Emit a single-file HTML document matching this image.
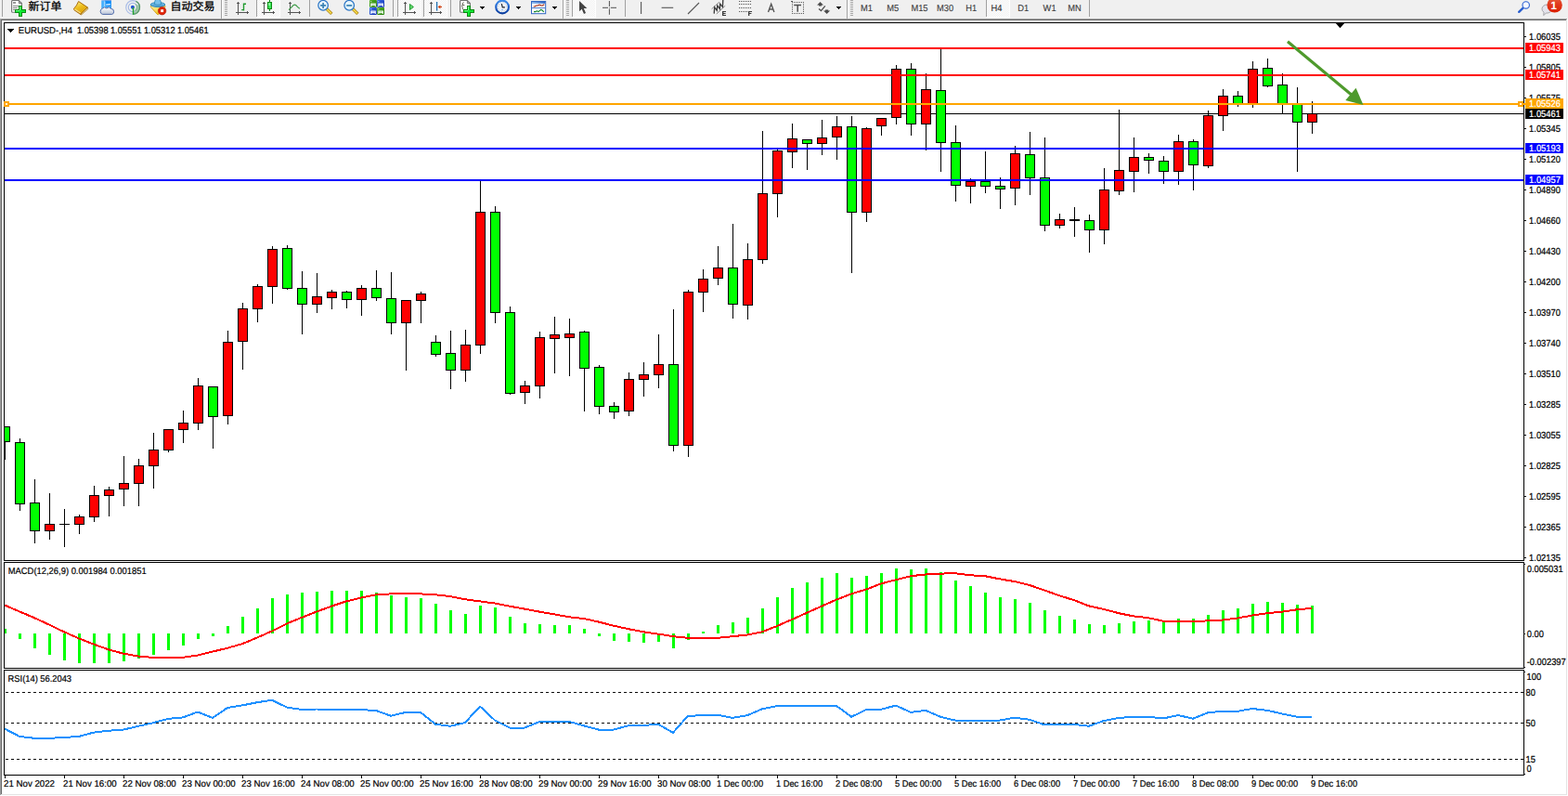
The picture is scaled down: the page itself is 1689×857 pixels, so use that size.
<!DOCTYPE html>
<html><head><meta charset="utf-8"><title>EURUSD-,H4</title>
<style>html,body{margin:0;padding:0;background:#f0f0f0}body{width:1689px;height:857px;overflow:hidden;position:relative;font-family:"Liberation Sans",sans-serif}text{white-space:pre;text-rendering:geometricPrecision}</style></head>
<body>
<svg width="1689" height="857" viewBox="0 0 1689 857" font-family="'Liberation Sans', sans-serif" style="position:absolute;left:0;top:0;display:block">
<defs><clipPath id="cm"><rect x="5" y="25" width="1636" height="578"/></clipPath><clipPath id="cq"><rect x="5" y="606" width="1636" height="113"/></clipPath><clipPath id="cr"><rect x="5" y="722" width="1636" height="112"/></clipPath></defs>
<rect x="0" y="0" width="1689" height="857" fill="#f0f0f0"/>
<g shape-rendering="crispEdges">
<rect x="0" y="20" width="1689" height="837" fill="#ffffff"/>
<rect x="0" y="20" width="1688" height="1" fill="#a0a0a0"/>
<rect x="0" y="20" width="1" height="836" fill="#a0a0a0"/>
<rect x="1" y="21" width="1686" height="1" fill="#696969"/>
<rect x="1" y="21" width="1" height="834" fill="#696969"/>
<rect x="1" y="855" width="1687" height="1" fill="#e3e3e3"/>
<rect x="1687" y="21" width="1" height="835" fill="#e3e3e3"/>
<rect x="4" y="24" width="1638" height="1" fill="#000"/>
<rect x="4" y="603" width="1638" height="1" fill="#000"/>
<rect x="4" y="24" width="1" height="580" fill="#000"/>
<rect x="1641" y="24" width="1" height="580" fill="#000"/>
<rect x="4" y="605" width="1638" height="1" fill="#000"/>
<rect x="4" y="719" width="1638" height="1" fill="#000"/>
<rect x="4" y="605" width="1" height="115" fill="#000"/>
<rect x="1641" y="605" width="1" height="115" fill="#000"/>
<rect x="4" y="721" width="1638" height="1" fill="#000"/>
<rect x="4" y="834" width="1638" height="1" fill="#000"/>
<rect x="4" y="721" width="1" height="114" fill="#000"/>
<rect x="1641" y="721" width="1" height="114" fill="#000"/>
</g>
<g clip-path="url(#cm)" shape-rendering="crispEdges">
<rect x="5" y="122" width="1636" height="1" fill="#000"/>
<rect x="5" y="459" width="1" height="36" fill="#000"/>
<rect x="0" y="459" width="11" height="17" fill="#000"/>
<rect x="1" y="460" width="9" height="15" fill="#00ff00"/>
<rect x="21" y="472" width="1" height="78" fill="#000"/>
<rect x="16" y="476" width="11" height="67" fill="#000"/>
<rect x="17" y="477" width="9" height="65" fill="#00ff00"/>
<rect x="37" y="516" width="1" height="69" fill="#000"/>
<rect x="32" y="541" width="11" height="31" fill="#000"/>
<rect x="33" y="542" width="9" height="29" fill="#00ff00"/>
<rect x="53" y="531" width="1" height="50" fill="#000"/>
<rect x="48" y="564" width="11" height="8" fill="#000"/>
<rect x="49" y="565" width="9" height="6" fill="#ff0000"/>
<rect x="69" y="548" width="1" height="41" fill="#000"/>
<rect x="64" y="564" width="11" height="1" fill="#000"/>
<rect x="85" y="554" width="1" height="21" fill="#000"/>
<rect x="80" y="556" width="11" height="9" fill="#000"/>
<rect x="81" y="557" width="9" height="7" fill="#ff0000"/>
<rect x="101" y="523" width="1" height="39" fill="#000"/>
<rect x="96" y="533" width="11" height="24" fill="#000"/>
<rect x="97" y="534" width="9" height="22" fill="#ff0000"/>
<rect x="117" y="524" width="1" height="32" fill="#000"/>
<rect x="112" y="527" width="11" height="7" fill="#000"/>
<rect x="113" y="528" width="9" height="5" fill="#ff0000"/>
<rect x="133" y="491" width="1" height="54" fill="#000"/>
<rect x="128" y="520" width="11" height="7" fill="#000"/>
<rect x="129" y="521" width="9" height="5" fill="#ff0000"/>
<rect x="149" y="494" width="1" height="51" fill="#000"/>
<rect x="144" y="501" width="11" height="20" fill="#000"/>
<rect x="145" y="502" width="9" height="18" fill="#ff0000"/>
<rect x="165" y="466" width="1" height="60" fill="#000"/>
<rect x="160" y="484" width="11" height="18" fill="#000"/>
<rect x="161" y="485" width="9" height="16" fill="#ff0000"/>
<rect x="181" y="462" width="1" height="25" fill="#000"/>
<rect x="176" y="462" width="11" height="23" fill="#000"/>
<rect x="177" y="463" width="9" height="21" fill="#ff0000"/>
<rect x="197" y="442" width="1" height="35" fill="#000"/>
<rect x="192" y="455" width="11" height="8" fill="#000"/>
<rect x="193" y="456" width="9" height="6" fill="#ff0000"/>
<rect x="213" y="407" width="1" height="56" fill="#000"/>
<rect x="208" y="415" width="11" height="41" fill="#000"/>
<rect x="209" y="416" width="9" height="39" fill="#ff0000"/>
<rect x="229" y="416" width="1" height="67" fill="#000"/>
<rect x="224" y="416" width="11" height="33" fill="#000"/>
<rect x="225" y="417" width="9" height="31" fill="#00ff00"/>
<rect x="245" y="356" width="1" height="101" fill="#000"/>
<rect x="240" y="368" width="11" height="80" fill="#000"/>
<rect x="241" y="369" width="9" height="78" fill="#ff0000"/>
<rect x="261" y="326" width="1" height="72" fill="#000"/>
<rect x="256" y="332" width="11" height="36" fill="#000"/>
<rect x="257" y="333" width="9" height="34" fill="#ff0000"/>
<rect x="277" y="306" width="1" height="41" fill="#000"/>
<rect x="272" y="308" width="11" height="25" fill="#000"/>
<rect x="273" y="309" width="9" height="23" fill="#ff0000"/>
<rect x="293" y="265" width="1" height="62" fill="#000"/>
<rect x="288" y="268" width="11" height="41" fill="#000"/>
<rect x="289" y="269" width="9" height="39" fill="#ff0000"/>
<rect x="309" y="264" width="1" height="48" fill="#000"/>
<rect x="304" y="267" width="11" height="44" fill="#000"/>
<rect x="305" y="268" width="9" height="42" fill="#00ff00"/>
<rect x="325" y="292" width="1" height="68" fill="#000"/>
<rect x="320" y="310" width="11" height="18" fill="#000"/>
<rect x="321" y="311" width="9" height="16" fill="#00ff00"/>
<rect x="341" y="294" width="1" height="43" fill="#000"/>
<rect x="336" y="319" width="11" height="9" fill="#000"/>
<rect x="337" y="320" width="9" height="7" fill="#ff0000"/>
<rect x="357" y="312" width="1" height="21" fill="#000"/>
<rect x="352" y="314" width="11" height="7" fill="#000"/>
<rect x="353" y="315" width="9" height="5" fill="#ff0000"/>
<rect x="373" y="313" width="1" height="19" fill="#000"/>
<rect x="368" y="314" width="11" height="9" fill="#000"/>
<rect x="369" y="315" width="9" height="7" fill="#00ff00"/>
<rect x="389" y="307" width="1" height="33" fill="#000"/>
<rect x="384" y="310" width="11" height="13" fill="#000"/>
<rect x="385" y="311" width="9" height="11" fill="#ff0000"/>
<rect x="405" y="291" width="1" height="33" fill="#000"/>
<rect x="400" y="310" width="11" height="11" fill="#000"/>
<rect x="401" y="311" width="9" height="9" fill="#00ff00"/>
<rect x="421" y="293" width="1" height="67" fill="#000"/>
<rect x="416" y="321" width="11" height="27" fill="#000"/>
<rect x="417" y="322" width="9" height="25" fill="#00ff00"/>
<rect x="437" y="323" width="1" height="76" fill="#000"/>
<rect x="432" y="323" width="11" height="25" fill="#000"/>
<rect x="433" y="324" width="9" height="23" fill="#ff0000"/>
<rect x="453" y="314" width="1" height="34" fill="#000"/>
<rect x="448" y="316" width="11" height="8" fill="#000"/>
<rect x="449" y="317" width="9" height="6" fill="#ff0000"/>
<rect x="469" y="361" width="1" height="23" fill="#000"/>
<rect x="464" y="368" width="11" height="14" fill="#000"/>
<rect x="465" y="369" width="9" height="12" fill="#00ff00"/>
<rect x="485" y="356" width="1" height="63" fill="#000"/>
<rect x="480" y="380" width="11" height="19" fill="#000"/>
<rect x="481" y="381" width="9" height="17" fill="#00ff00"/>
<rect x="501" y="355" width="1" height="56" fill="#000"/>
<rect x="496" y="371" width="11" height="28" fill="#000"/>
<rect x="497" y="372" width="9" height="26" fill="#ff0000"/>
<rect x="517" y="195" width="1" height="186" fill="#000"/>
<rect x="512" y="228" width="11" height="144" fill="#000"/>
<rect x="513" y="229" width="9" height="142" fill="#ff0000"/>
<rect x="533" y="222" width="1" height="126" fill="#000"/>
<rect x="528" y="228" width="11" height="109" fill="#000"/>
<rect x="529" y="229" width="9" height="107" fill="#00ff00"/>
<rect x="549" y="330" width="1" height="95" fill="#000"/>
<rect x="544" y="336" width="11" height="88" fill="#000"/>
<rect x="545" y="337" width="9" height="86" fill="#00ff00"/>
<rect x="565" y="410" width="1" height="25" fill="#000"/>
<rect x="560" y="415" width="11" height="8" fill="#000"/>
<rect x="561" y="416" width="9" height="6" fill="#ff0000"/>
<rect x="581" y="357" width="1" height="72" fill="#000"/>
<rect x="576" y="363" width="11" height="53" fill="#000"/>
<rect x="577" y="364" width="9" height="51" fill="#ff0000"/>
<rect x="597" y="341" width="1" height="61" fill="#000"/>
<rect x="592" y="360" width="11" height="5" fill="#000"/>
<rect x="593" y="361" width="9" height="3" fill="#ff0000"/>
<rect x="613" y="343" width="1" height="62" fill="#000"/>
<rect x="608" y="359" width="11" height="5" fill="#000"/>
<rect x="609" y="360" width="9" height="3" fill="#ff0000"/>
<rect x="629" y="356" width="1" height="87" fill="#000"/>
<rect x="624" y="357" width="11" height="40" fill="#000"/>
<rect x="625" y="358" width="9" height="38" fill="#00ff00"/>
<rect x="645" y="393" width="1" height="53" fill="#000"/>
<rect x="640" y="395" width="11" height="43" fill="#000"/>
<rect x="641" y="396" width="9" height="41" fill="#00ff00"/>
<rect x="661" y="433" width="1" height="18" fill="#000"/>
<rect x="656" y="437" width="11" height="7" fill="#000"/>
<rect x="657" y="438" width="9" height="5" fill="#00ff00"/>
<rect x="677" y="401" width="1" height="47" fill="#000"/>
<rect x="672" y="408" width="11" height="35" fill="#000"/>
<rect x="673" y="409" width="9" height="33" fill="#ff0000"/>
<rect x="693" y="390" width="1" height="37" fill="#000"/>
<rect x="688" y="403" width="11" height="6" fill="#000"/>
<rect x="689" y="404" width="9" height="4" fill="#ff0000"/>
<rect x="709" y="360" width="1" height="58" fill="#000"/>
<rect x="704" y="392" width="11" height="12" fill="#000"/>
<rect x="705" y="393" width="9" height="10" fill="#ff0000"/>
<rect x="725" y="333" width="1" height="153" fill="#000"/>
<rect x="720" y="392" width="11" height="88" fill="#000"/>
<rect x="721" y="393" width="9" height="86" fill="#00ff00"/>
<rect x="741" y="312" width="1" height="180" fill="#000"/>
<rect x="736" y="314" width="11" height="166" fill="#000"/>
<rect x="737" y="315" width="9" height="164" fill="#ff0000"/>
<rect x="757" y="290" width="1" height="46" fill="#000"/>
<rect x="752" y="300" width="11" height="15" fill="#000"/>
<rect x="753" y="301" width="9" height="13" fill="#ff0000"/>
<rect x="773" y="265" width="1" height="42" fill="#000"/>
<rect x="768" y="288" width="11" height="12" fill="#000"/>
<rect x="769" y="289" width="9" height="10" fill="#ff0000"/>
<rect x="789" y="241" width="1" height="102" fill="#000"/>
<rect x="784" y="288" width="11" height="40" fill="#000"/>
<rect x="785" y="289" width="9" height="38" fill="#00ff00"/>
<rect x="805" y="262" width="1" height="82" fill="#000"/>
<rect x="800" y="279" width="11" height="50" fill="#000"/>
<rect x="801" y="280" width="9" height="48" fill="#ff0000"/>
<rect x="821" y="141" width="1" height="143" fill="#000"/>
<rect x="816" y="208" width="11" height="72" fill="#000"/>
<rect x="817" y="209" width="9" height="70" fill="#ff0000"/>
<rect x="837" y="161" width="1" height="73" fill="#000"/>
<rect x="832" y="162" width="11" height="47" fill="#000"/>
<rect x="833" y="163" width="9" height="45" fill="#ff0000"/>
<rect x="853" y="133" width="1" height="48" fill="#000"/>
<rect x="848" y="149" width="11" height="15" fill="#000"/>
<rect x="849" y="150" width="9" height="13" fill="#ff0000"/>
<rect x="869" y="150" width="1" height="33" fill="#000"/>
<rect x="864" y="150" width="11" height="5" fill="#000"/>
<rect x="865" y="151" width="9" height="3" fill="#00ff00"/>
<rect x="885" y="129" width="1" height="38" fill="#000"/>
<rect x="880" y="148" width="11" height="7" fill="#000"/>
<rect x="881" y="149" width="9" height="5" fill="#ff0000"/>
<rect x="901" y="125" width="1" height="47" fill="#000"/>
<rect x="896" y="136" width="11" height="12" fill="#000"/>
<rect x="897" y="137" width="9" height="10" fill="#ff0000"/>
<rect x="917" y="125" width="1" height="169" fill="#000"/>
<rect x="912" y="136" width="11" height="93" fill="#000"/>
<rect x="913" y="137" width="9" height="91" fill="#00ff00"/>
<rect x="933" y="137" width="1" height="102" fill="#000"/>
<rect x="928" y="138" width="11" height="91" fill="#000"/>
<rect x="929" y="139" width="9" height="89" fill="#ff0000"/>
<rect x="949" y="127" width="1" height="19" fill="#000"/>
<rect x="944" y="127" width="11" height="9" fill="#000"/>
<rect x="945" y="128" width="9" height="7" fill="#ff0000"/>
<rect x="965" y="70" width="1" height="64" fill="#000"/>
<rect x="960" y="74" width="11" height="53" fill="#000"/>
<rect x="961" y="75" width="9" height="51" fill="#ff0000"/>
<rect x="981" y="68" width="1" height="78" fill="#000"/>
<rect x="976" y="74" width="11" height="60" fill="#000"/>
<rect x="977" y="75" width="9" height="58" fill="#00ff00"/>
<rect x="997" y="79" width="1" height="83" fill="#000"/>
<rect x="992" y="96" width="11" height="38" fill="#000"/>
<rect x="993" y="97" width="9" height="36" fill="#ff0000"/>
<rect x="1013" y="53" width="1" height="132" fill="#000"/>
<rect x="1008" y="97" width="11" height="57" fill="#000"/>
<rect x="1009" y="98" width="9" height="55" fill="#00ff00"/>
<rect x="1029" y="135" width="1" height="82" fill="#000"/>
<rect x="1024" y="153" width="11" height="47" fill="#000"/>
<rect x="1025" y="154" width="9" height="45" fill="#00ff00"/>
<rect x="1045" y="192" width="1" height="27" fill="#000"/>
<rect x="1040" y="195" width="11" height="6" fill="#000"/>
<rect x="1041" y="196" width="9" height="4" fill="#ff0000"/>
<rect x="1061" y="163" width="1" height="45" fill="#000"/>
<rect x="1056" y="195" width="11" height="6" fill="#000"/>
<rect x="1057" y="196" width="9" height="4" fill="#00ff00"/>
<rect x="1077" y="191" width="1" height="34" fill="#000"/>
<rect x="1072" y="200" width="11" height="4" fill="#000"/>
<rect x="1073" y="201" width="9" height="2" fill="#00ff00"/>
<rect x="1093" y="157" width="1" height="64" fill="#000"/>
<rect x="1088" y="165" width="11" height="38" fill="#000"/>
<rect x="1089" y="166" width="9" height="36" fill="#ff0000"/>
<rect x="1109" y="142" width="1" height="68" fill="#000"/>
<rect x="1104" y="166" width="11" height="26" fill="#000"/>
<rect x="1105" y="167" width="9" height="24" fill="#00ff00"/>
<rect x="1125" y="148" width="1" height="101" fill="#000"/>
<rect x="1120" y="191" width="11" height="52" fill="#000"/>
<rect x="1121" y="192" width="9" height="50" fill="#00ff00"/>
<rect x="1141" y="230" width="1" height="16" fill="#000"/>
<rect x="1136" y="236" width="11" height="7" fill="#000"/>
<rect x="1137" y="237" width="9" height="5" fill="#ff0000"/>
<rect x="1157" y="223" width="1" height="32" fill="#000"/>
<rect x="1152" y="236" width="11" height="2" fill="#000"/>
<rect x="1173" y="231" width="1" height="41" fill="#000"/>
<rect x="1168" y="237" width="11" height="11" fill="#000"/>
<rect x="1169" y="238" width="9" height="9" fill="#00ff00"/>
<rect x="1189" y="181" width="1" height="82" fill="#000"/>
<rect x="1184" y="204" width="11" height="44" fill="#000"/>
<rect x="1185" y="205" width="9" height="42" fill="#ff0000"/>
<rect x="1205" y="118" width="1" height="92" fill="#000"/>
<rect x="1200" y="183" width="11" height="23" fill="#000"/>
<rect x="1201" y="184" width="9" height="21" fill="#ff0000"/>
<rect x="1221" y="148" width="1" height="59" fill="#000"/>
<rect x="1216" y="169" width="11" height="16" fill="#000"/>
<rect x="1217" y="170" width="9" height="14" fill="#ff0000"/>
<rect x="1237" y="165" width="1" height="22" fill="#000"/>
<rect x="1232" y="169" width="11" height="4" fill="#000"/>
<rect x="1233" y="170" width="9" height="2" fill="#00ff00"/>
<rect x="1253" y="168" width="1" height="30" fill="#000"/>
<rect x="1248" y="173" width="11" height="12" fill="#000"/>
<rect x="1249" y="174" width="9" height="10" fill="#00ff00"/>
<rect x="1269" y="145" width="1" height="54" fill="#000"/>
<rect x="1264" y="152" width="11" height="33" fill="#000"/>
<rect x="1265" y="153" width="9" height="31" fill="#ff0000"/>
<rect x="1285" y="150" width="1" height="55" fill="#000"/>
<rect x="1280" y="152" width="11" height="26" fill="#000"/>
<rect x="1281" y="153" width="9" height="24" fill="#00ff00"/>
<rect x="1301" y="119" width="1" height="62" fill="#000"/>
<rect x="1296" y="124" width="11" height="55" fill="#000"/>
<rect x="1297" y="125" width="9" height="53" fill="#ff0000"/>
<rect x="1317" y="96" width="1" height="45" fill="#000"/>
<rect x="1312" y="103" width="11" height="22" fill="#000"/>
<rect x="1313" y="104" width="9" height="20" fill="#ff0000"/>
<rect x="1333" y="98" width="1" height="17" fill="#000"/>
<rect x="1328" y="103" width="11" height="9" fill="#000"/>
<rect x="1329" y="104" width="9" height="7" fill="#00ff00"/>
<rect x="1349" y="66" width="1" height="50" fill="#000"/>
<rect x="1344" y="74" width="11" height="38" fill="#000"/>
<rect x="1345" y="75" width="9" height="36" fill="#ff0000"/>
<rect x="1365" y="63" width="1" height="31" fill="#000"/>
<rect x="1360" y="73" width="11" height="20" fill="#000"/>
<rect x="1361" y="74" width="9" height="18" fill="#00ff00"/>
<rect x="1381" y="79" width="1" height="44" fill="#000"/>
<rect x="1376" y="91" width="11" height="22" fill="#000"/>
<rect x="1377" y="92" width="9" height="20" fill="#00ff00"/>
<rect x="1397" y="94" width="1" height="91" fill="#000"/>
<rect x="1392" y="112" width="11" height="20" fill="#000"/>
<rect x="1393" y="113" width="9" height="18" fill="#00ff00"/>
<rect x="1413" y="109" width="1" height="35" fill="#000"/>
<rect x="1408" y="122" width="11" height="10" fill="#000"/>
<rect x="1409" y="123" width="9" height="8" fill="#ff0000"/>
<rect x="5" y="51" width="1636" height="2" fill="#ff0000"/>
<rect x="5" y="80" width="1636" height="2" fill="#ff0000"/>
<rect x="5" y="111" width="1636" height="2" fill="#ffa500"/>
<rect x="5" y="159" width="1636" height="2" fill="#0000ff"/>
<rect x="5" y="193" width="1636" height="2" fill="#0000ff"/>
</g>
<g shape-rendering="crispEdges">
<rect x="4" y="109" width="6" height="6" fill="#ffa500"/>
<rect x="6" y="111" width="2" height="2" fill="#fff"/>
<rect x="1635" y="109" width="6" height="6" fill="#ffa500"/>
<rect x="1637" y="111" width="2" height="2" fill="#fff"/>
<rect x="1641" y="111" width="2" height="2" fill="#ffa500"/>
</g>
<line x1="1387" y1="44.8" x2="1456" y2="102.2" stroke="#4e9a2c" stroke-width="3.1"/>
<polygon points="1468.5,112.9 1460.6,94.7 1449.3,107.9" fill="#4e9a2c"/>
<polygon points="1438.4,24.6 1448.6,24.6 1443.5,30.2" fill="#000"/>
<polygon points="8,31 15,31 11.5,35" fill="#000" shape-rendering="crispEdges"/>
<text transform="translate(19.80,36.20) scale(1.02,1.07)" fill="#000" stroke="#000" stroke-width=".2" font-size="9.33">EURUSD-,H4</text>
<text transform="translate(82.90,36.20) scale(1.0,1.1)" fill="#000" stroke="#000" stroke-width=".2" font-size="9.33">1.05398</text>
<text transform="translate(118.90,36.20) scale(1.0,1.1)" fill="#000" stroke="#000" stroke-width=".2" font-size="9.33">1.05551</text>
<text transform="translate(154.90,36.20) scale(1.0,1.1)" fill="#000" stroke="#000" stroke-width=".2" font-size="9.33">1.05312</text>
<text transform="translate(190.90,36.20) scale(1.0,1.1)" fill="#000" stroke="#000" stroke-width=".2" font-size="9.33">1.05461</text>
<g clip-path="url(#cq)" shape-rendering="crispEdges">
<rect x="4" y="677" width="3" height="5" fill="#00ff00"/>
<rect x="20" y="682" width="3" height="6" fill="#00ff00"/>
<rect x="36" y="682" width="3" height="16" fill="#00ff00"/>
<rect x="52" y="682" width="3" height="23" fill="#00ff00"/>
<rect x="68" y="682" width="3" height="29" fill="#00ff00"/>
<rect x="84" y="682" width="3" height="32" fill="#00ff00"/>
<rect x="100" y="682" width="3" height="32" fill="#00ff00"/>
<rect x="116" y="682" width="3" height="32" fill="#00ff00"/>
<rect x="132" y="682" width="3" height="30" fill="#00ff00"/>
<rect x="148" y="682" width="3" height="27" fill="#00ff00"/>
<rect x="164" y="682" width="3" height="23" fill="#00ff00"/>
<rect x="180" y="682" width="3" height="18" fill="#00ff00"/>
<rect x="196" y="682" width="3" height="13" fill="#00ff00"/>
<rect x="212" y="682" width="3" height="6" fill="#00ff00"/>
<rect x="228" y="682" width="3" height="3" fill="#00ff00"/>
<rect x="244" y="674" width="3" height="8" fill="#00ff00"/>
<rect x="260" y="664" width="3" height="18" fill="#00ff00"/>
<rect x="276" y="655" width="3" height="27" fill="#00ff00"/>
<rect x="292" y="644" width="3" height="38" fill="#00ff00"/>
<rect x="308" y="640" width="3" height="42" fill="#00ff00"/>
<rect x="324" y="638" width="3" height="44" fill="#00ff00"/>
<rect x="340" y="637" width="3" height="45" fill="#00ff00"/>
<rect x="356" y="636" width="3" height="46" fill="#00ff00"/>
<rect x="372" y="636" width="3" height="46" fill="#00ff00"/>
<rect x="388" y="636" width="3" height="46" fill="#00ff00"/>
<rect x="404" y="638" width="3" height="44" fill="#00ff00"/>
<rect x="420" y="641" width="3" height="41" fill="#00ff00"/>
<rect x="436" y="643" width="3" height="39" fill="#00ff00"/>
<rect x="452" y="644" width="3" height="38" fill="#00ff00"/>
<rect x="468" y="650" width="3" height="32" fill="#00ff00"/>
<rect x="484" y="657" width="3" height="25" fill="#00ff00"/>
<rect x="500" y="661" width="3" height="21" fill="#00ff00"/>
<rect x="516" y="652" width="3" height="30" fill="#00ff00"/>
<rect x="532" y="654" width="3" height="28" fill="#00ff00"/>
<rect x="548" y="664" width="3" height="18" fill="#00ff00"/>
<rect x="564" y="671" width="3" height="11" fill="#00ff00"/>
<rect x="580" y="672" width="3" height="10" fill="#00ff00"/>
<rect x="596" y="673" width="3" height="9" fill="#00ff00"/>
<rect x="612" y="673" width="3" height="9" fill="#00ff00"/>
<rect x="628" y="677" width="3" height="5" fill="#00ff00"/>
<rect x="644" y="682" width="3" height="3" fill="#00ff00"/>
<rect x="660" y="682" width="3" height="8" fill="#00ff00"/>
<rect x="676" y="682" width="3" height="9" fill="#00ff00"/>
<rect x="692" y="682" width="3" height="10" fill="#00ff00"/>
<rect x="708" y="682" width="3" height="9" fill="#00ff00"/>
<rect x="724" y="682" width="3" height="16" fill="#00ff00"/>
<rect x="740" y="682" width="3" height="7" fill="#00ff00"/>
<rect x="756" y="680" width="3" height="2" fill="#00ff00"/>
<rect x="772" y="673" width="3" height="9" fill="#00ff00"/>
<rect x="788" y="670" width="3" height="12" fill="#00ff00"/>
<rect x="804" y="665" width="3" height="17" fill="#00ff00"/>
<rect x="820" y="655" width="3" height="27" fill="#00ff00"/>
<rect x="836" y="643" width="3" height="39" fill="#00ff00"/>
<rect x="852" y="633" width="3" height="49" fill="#00ff00"/>
<rect x="868" y="627" width="3" height="55" fill="#00ff00"/>
<rect x="884" y="622" width="3" height="60" fill="#00ff00"/>
<rect x="900" y="617" width="3" height="65" fill="#00ff00"/>
<rect x="916" y="622" width="3" height="60" fill="#00ff00"/>
<rect x="932" y="620" width="3" height="62" fill="#00ff00"/>
<rect x="948" y="617" width="3" height="65" fill="#00ff00"/>
<rect x="964" y="612" width="3" height="70" fill="#00ff00"/>
<rect x="980" y="613" width="3" height="69" fill="#00ff00"/>
<rect x="996" y="612" width="3" height="70" fill="#00ff00"/>
<rect x="1012" y="616" width="3" height="66" fill="#00ff00"/>
<rect x="1028" y="625" width="3" height="57" fill="#00ff00"/>
<rect x="1044" y="631" width="3" height="51" fill="#00ff00"/>
<rect x="1060" y="638" width="3" height="44" fill="#00ff00"/>
<rect x="1076" y="643" width="3" height="39" fill="#00ff00"/>
<rect x="1092" y="645" width="3" height="37" fill="#00ff00"/>
<rect x="1108" y="649" width="3" height="33" fill="#00ff00"/>
<rect x="1124" y="657" width="3" height="25" fill="#00ff00"/>
<rect x="1140" y="663" width="3" height="19" fill="#00ff00"/>
<rect x="1156" y="667" width="3" height="15" fill="#00ff00"/>
<rect x="1172" y="672" width="3" height="10" fill="#00ff00"/>
<rect x="1188" y="673" width="3" height="9" fill="#00ff00"/>
<rect x="1204" y="671" width="3" height="11" fill="#00ff00"/>
<rect x="1220" y="669" width="3" height="13" fill="#00ff00"/>
<rect x="1236" y="668" width="3" height="14" fill="#00ff00"/>
<rect x="1252" y="668" width="3" height="14" fill="#00ff00"/>
<rect x="1268" y="666" width="3" height="16" fill="#00ff00"/>
<rect x="1284" y="666" width="3" height="16" fill="#00ff00"/>
<rect x="1300" y="662" width="3" height="20" fill="#00ff00"/>
<rect x="1316" y="657" width="3" height="25" fill="#00ff00"/>
<rect x="1332" y="655" width="3" height="27" fill="#00ff00"/>
<rect x="1348" y="650" width="3" height="32" fill="#00ff00"/>
<rect x="1364" y="648" width="3" height="34" fill="#00ff00"/>
<rect x="1380" y="649" width="3" height="33" fill="#00ff00"/>
<rect x="1396" y="651" width="3" height="31" fill="#00ff00"/>
<rect x="1412" y="652" width="3" height="30" fill="#00ff00"/>
<polyline points="5,651.5 21,658.4 37,665.2 53,672.6 69,680.3 85,687.4 101,693.6 117,699.4 133,703.7 149,706.5 165,708 181,708 197,707.8 213,705.5 229,701.6 245,697.7 261,693.2 277,686.5 293,679.4 309,671.4 325,664.8 341,658.6 357,652.7 373,647.4 389,643.5 405,640.3 421,639.4 437,639 453,639.4 469,640.3 485,642.1 501,645.3 517,647.4 533,649.5 549,652.7 565,655.6 581,658.6 597,661.3 613,664.3 629,666 645,669.6 661,673.7 677,677.2 693,680.3 709,682.6 725,685.2 741,686.8 757,686.8 773,686.8 789,685.2 805,683.5 821,680.3 837,674 853,667 869,659.8 885,652.7 901,645.6 917,639.4 933,634.6 949,628.4 965,624.3 981,620.2 997,618.5 1013,617.6 1029,617.2 1045,619.3 1061,620.2 1077,623.4 1093,626.1 1109,630 1125,635.5 1141,641.2 1157,646.2 1173,652.4 1189,655.9 1205,660.2 1221,663.4 1237,665.2 1253,668.7 1269,669 1285,669 1301,668.4 1317,667.5 1333,665.5 1349,662.5 1365,660.2 1381,658.6 1397,656.3 1413,654.9" fill="none" stroke="#ff0000" stroke-width="2" stroke-linejoin="round"/>
</g>
<text transform="translate(8.70,618.20) scale(1.008,1.07)" fill="#000" stroke="#000" stroke-width=".2" font-size="9.33">MACD(12,26,9) 0.001984 0.001851</text>
<g clip-path="url(#cr)" shape-rendering="crispEdges">
<line x1="6" y1="745.5" x2="1641" y2="745.5" stroke="#000" stroke-width="1" stroke-dasharray="3 3"/>
<line x1="6" y1="778.5" x2="1641" y2="778.5" stroke="#000" stroke-width="1" stroke-dasharray="3 3"/>
<line x1="6" y1="817.5" x2="1641" y2="817.5" stroke="#000" stroke-width="1" stroke-dasharray="3 3"/>
<polyline points="5,784.6 21,792.9 37,794.8 53,794.8 69,794 85,792.9 101,788.6 117,786.7 133,785.6 149,781.8 165,778.2 181,773.9 197,772.4 213,766.5 229,772.9 245,762 261,759.4 277,756.2 293,753.7 309,761.6 325,763.9 341,763.5 357,763.7 373,764.1 389,764.1 405,765 421,770.7 437,766.9 453,766.9 469,779.7 485,781.8 501,778 517,760.5 533,775.4 549,783.5 565,783.5 581,777.1 597,776.9 613,776.9 629,781.4 645,785.6 661,785.6 677,781.2 693,781 709,779.7 725,788.8 741,770.7 757,770.3 773,769.7 789,772.9 805,770.1 821,763.3 837,760.1 853,759.9 869,759.9 885,759.9 901,759.9 917,771.8 933,764.1 949,763.7 965,759.6 981,766.9 997,764.8 1013,771.8 1029,775.6 1045,775.5 1061,775.5 1077,775.5 1093,772.7 1109,774.7 1125,780.4 1141,780.4 1157,779.9 1173,781.7 1189,776 1205,773 1221,771.7 1237,771.7 1253,773.5 1269,770 1285,773.7 1301,767.3 1317,765.8 1333,765.8 1349,763 1365,764.8 1381,768.5 1397,771.7 1413,771.7" fill="none" stroke="#1e90ff" stroke-width="2" stroke-linejoin="round"/>
</g>
<text transform="translate(8.60,734.20) scale(1.0,1.07)" fill="#000" stroke="#000" stroke-width=".2" font-size="9.33">RSI(14) 56.2043</text>
<g shape-rendering="crispEdges">
<rect x="1642" y="39" width="2" height="1" fill="#000"/>
<rect x="1642" y="72" width="2" height="1" fill="#000"/>
<rect x="1642" y="105" width="2" height="1" fill="#000"/>
<rect x="1642" y="138" width="2" height="1" fill="#000"/>
<rect x="1642" y="171" width="2" height="1" fill="#000"/>
<rect x="1642" y="204" width="2" height="1" fill="#000"/>
<rect x="1642" y="237" width="2" height="1" fill="#000"/>
<rect x="1642" y="270" width="2" height="1" fill="#000"/>
<rect x="1642" y="303" width="2" height="1" fill="#000"/>
<rect x="1642" y="336" width="2" height="1" fill="#000"/>
<rect x="1642" y="369" width="2" height="1" fill="#000"/>
<rect x="1642" y="402" width="2" height="1" fill="#000"/>
<rect x="1642" y="435" width="2" height="1" fill="#000"/>
<rect x="1642" y="468" width="2" height="1" fill="#000"/>
<rect x="1642" y="501" width="2" height="1" fill="#000"/>
<rect x="1642" y="534" width="2" height="1" fill="#000"/>
<rect x="1642" y="567" width="2" height="1" fill="#000"/>
<rect x="1642" y="600" width="2" height="1" fill="#000"/>
<rect x="1642" y="607" width="1" height="1" fill="#000"/>
<rect x="1642" y="682" width="1" height="1" fill="#000"/>
<rect x="1642" y="718" width="1" height="1" fill="#000"/>
<rect x="1642" y="723" width="1" height="1" fill="#000"/>
<rect x="1642" y="833" width="1" height="1" fill="#000"/>
</g>
<text transform="translate(1647.10,43.00) scale(1.0,1.1)" fill="#000" stroke="#000" stroke-width=".2" font-size="9.33">1.06035</text>
<text transform="translate(1647.10,76.00) scale(1.0,1.1)" fill="#000" stroke="#000" stroke-width=".2" font-size="9.33">1.05805</text>
<text transform="translate(1647.10,109.00) scale(1.0,1.1)" fill="#000" stroke="#000" stroke-width=".2" font-size="9.33">1.05575</text>
<text transform="translate(1647.10,142.00) scale(1.0,1.1)" fill="#000" stroke="#000" stroke-width=".2" font-size="9.33">1.05345</text>
<text transform="translate(1647.10,175.00) scale(1.0,1.1)" fill="#000" stroke="#000" stroke-width=".2" font-size="9.33">1.05120</text>
<text transform="translate(1647.10,208.00) scale(1.0,1.1)" fill="#000" stroke="#000" stroke-width=".2" font-size="9.33">1.04890</text>
<text transform="translate(1647.10,241.00) scale(1.0,1.1)" fill="#000" stroke="#000" stroke-width=".2" font-size="9.33">1.04660</text>
<text transform="translate(1647.10,274.00) scale(1.0,1.1)" fill="#000" stroke="#000" stroke-width=".2" font-size="9.33">1.04430</text>
<text transform="translate(1647.10,307.00) scale(1.0,1.1)" fill="#000" stroke="#000" stroke-width=".2" font-size="9.33">1.04200</text>
<text transform="translate(1647.10,340.00) scale(1.0,1.1)" fill="#000" stroke="#000" stroke-width=".2" font-size="9.33">1.03970</text>
<text transform="translate(1647.10,373.00) scale(1.0,1.1)" fill="#000" stroke="#000" stroke-width=".2" font-size="9.33">1.03740</text>
<text transform="translate(1647.10,406.00) scale(1.0,1.1)" fill="#000" stroke="#000" stroke-width=".2" font-size="9.33">1.03510</text>
<text transform="translate(1647.10,439.00) scale(1.0,1.1)" fill="#000" stroke="#000" stroke-width=".2" font-size="9.33">1.03285</text>
<text transform="translate(1647.10,472.00) scale(1.0,1.1)" fill="#000" stroke="#000" stroke-width=".2" font-size="9.33">1.03055</text>
<text transform="translate(1647.10,505.00) scale(1.0,1.1)" fill="#000" stroke="#000" stroke-width=".2" font-size="9.33">1.02825</text>
<text transform="translate(1647.10,538.00) scale(1.0,1.1)" fill="#000" stroke="#000" stroke-width=".2" font-size="9.33">1.02595</text>
<text transform="translate(1647.10,571.00) scale(1.0,1.1)" fill="#000" stroke="#000" stroke-width=".2" font-size="9.33">1.02365</text>
<text transform="translate(1647.10,604.00) scale(1.0,1.1)" fill="#000" stroke="#000" stroke-width=".2" font-size="9.33">1.02135</text>
<text transform="translate(1644.70,616.20) scale(1.0,1.1)" fill="#000" stroke="#000" stroke-width=".2" font-size="9.33">0.005031</text>
<text transform="translate(1644.80,686.20) scale(1.0,1.1)" fill="#000" stroke="#000" stroke-width=".2" font-size="9.33">0.00</text>
<text transform="translate(1644.70,716.20) scale(1.0,1.1)" fill="#000" stroke="#000" stroke-width=".2" font-size="9.33">-0.002397</text>
<text transform="translate(1644.60,732.20) scale(1.0,1.1)" fill="#000" stroke="#000" stroke-width=".2" font-size="9.33">100</text>
<text transform="translate(1643.50,749.20) scale(1.0,1.1)" fill="#000" stroke="#000" stroke-width=".2" font-size="9.33">80</text>
<text transform="translate(1643.50,782.20) scale(1.0,1.1)" fill="#000" stroke="#000" stroke-width=".2" font-size="9.33">50</text>
<text transform="translate(1643.50,821.20) scale(1.0,1.1)" fill="#000" stroke="#000" stroke-width=".2" font-size="9.33">15</text>
<text transform="translate(1644.40,831.20) scale(1.0,1.1)" fill="#000" stroke="#000" stroke-width=".2" font-size="9.33">0</text>
<g shape-rendering="crispEdges">
<rect x="1643" y="46" width="41" height="11" fill="#ff0000"/>
<rect x="1643" y="75" width="41" height="11" fill="#ff0000"/>
<rect x="1643" y="106" width="41" height="11" fill="#ffa500"/>
<rect x="1643" y="117" width="41" height="11" fill="#000"/>
<rect x="1643" y="154" width="41" height="11" fill="#0000ff"/>
<rect x="1643" y="188" width="41" height="11" fill="#0000ff"/>
</g>
<text transform="translate(1647.10,55.00) scale(1.0,1.1)" fill="#fff" stroke="#fff" stroke-width=".2" font-size="9.33">1.05943</text>
<text transform="translate(1647.10,84.00) scale(1.0,1.1)" fill="#fff" stroke="#fff" stroke-width=".2" font-size="9.33">1.05741</text>
<text transform="translate(1647.10,115.00) scale(1.0,1.1)" fill="#fff" stroke="#fff" stroke-width=".2" font-size="9.33">1.05526</text>
<text transform="translate(1647.10,126.00) scale(1.0,1.1)" fill="#fff" stroke="#fff" stroke-width=".2" font-size="9.33">1.05461</text>
<text transform="translate(1647.10,163.00) scale(1.0,1.1)" fill="#fff" stroke="#fff" stroke-width=".2" font-size="9.33">1.05193</text>
<text transform="translate(1647.10,197.00) scale(1.0,1.1)" fill="#fff" stroke="#fff" stroke-width=".2" font-size="9.33">1.04957</text>
<g shape-rendering="crispEdges">
<rect x="5" y="835" width="1" height="3" fill="#000"/>
<rect x="69" y="835" width="1" height="3" fill="#000"/>
<rect x="133" y="835" width="1" height="3" fill="#000"/>
<rect x="197" y="835" width="1" height="3" fill="#000"/>
<rect x="261" y="835" width="1" height="3" fill="#000"/>
<rect x="325" y="835" width="1" height="3" fill="#000"/>
<rect x="389" y="835" width="1" height="3" fill="#000"/>
<rect x="453" y="835" width="1" height="3" fill="#000"/>
<rect x="517" y="835" width="1" height="3" fill="#000"/>
<rect x="581" y="835" width="1" height="3" fill="#000"/>
<rect x="645" y="835" width="1" height="3" fill="#000"/>
<rect x="709" y="835" width="1" height="3" fill="#000"/>
<rect x="773" y="835" width="1" height="3" fill="#000"/>
<rect x="837" y="835" width="1" height="3" fill="#000"/>
<rect x="901" y="835" width="1" height="3" fill="#000"/>
<rect x="965" y="835" width="1" height="3" fill="#000"/>
<rect x="1029" y="835" width="1" height="3" fill="#000"/>
<rect x="1093" y="835" width="1" height="3" fill="#000"/>
<rect x="1157" y="835" width="1" height="3" fill="#000"/>
<rect x="1221" y="835" width="1" height="3" fill="#000"/>
<rect x="1285" y="835" width="1" height="3" fill="#000"/>
<rect x="1349" y="835" width="1" height="3" fill="#000"/>
<rect x="1413" y="835" width="1" height="3" fill="#000"/>
</g>
<text transform="translate(4.00,847.20) scale(1.04,1.07)" fill="#000" stroke="#000" stroke-width=".2" font-size="9.33">21 Nov 2022</text>
<text transform="translate(68.00,847.20) scale(1.04,1.07)" fill="#000" stroke="#000" stroke-width=".2" font-size="9.33">21 Nov 16:00</text>
<text transform="translate(132.00,847.20) scale(1.04,1.07)" fill="#000" stroke="#000" stroke-width=".2" font-size="9.33">22 Nov 08:00</text>
<text transform="translate(196.00,847.20) scale(1.04,1.07)" fill="#000" stroke="#000" stroke-width=".2" font-size="9.33">23 Nov 00:00</text>
<text transform="translate(260.00,847.20) scale(1.04,1.07)" fill="#000" stroke="#000" stroke-width=".2" font-size="9.33">23 Nov 16:00</text>
<text transform="translate(324.00,847.20) scale(1.04,1.07)" fill="#000" stroke="#000" stroke-width=".2" font-size="9.33">24 Nov 08:00</text>
<text transform="translate(388.00,847.20) scale(1.04,1.07)" fill="#000" stroke="#000" stroke-width=".2" font-size="9.33">25 Nov 00:00</text>
<text transform="translate(452.00,847.20) scale(1.04,1.07)" fill="#000" stroke="#000" stroke-width=".2" font-size="9.33">25 Nov 16:00</text>
<text transform="translate(516.00,847.20) scale(1.04,1.07)" fill="#000" stroke="#000" stroke-width=".2" font-size="9.33">28 Nov 08:00</text>
<text transform="translate(580.00,847.20) scale(1.04,1.07)" fill="#000" stroke="#000" stroke-width=".2" font-size="9.33">29 Nov 00:00</text>
<text transform="translate(644.00,847.20) scale(1.04,1.07)" fill="#000" stroke="#000" stroke-width=".2" font-size="9.33">29 Nov 16:00</text>
<text transform="translate(708.00,847.20) scale(1.04,1.07)" fill="#000" stroke="#000" stroke-width=".2" font-size="9.33">30 Nov 08:00</text>
<text transform="translate(772.00,847.20) scale(0.995,1.07)" fill="#000" stroke="#000" stroke-width=".2" font-size="9.33">1 Dec 00:00</text>
<text transform="translate(836.00,847.20) scale(0.995,1.07)" fill="#000" stroke="#000" stroke-width=".2" font-size="9.33">1 Dec 16:00</text>
<text transform="translate(900.00,847.20) scale(0.995,1.07)" fill="#000" stroke="#000" stroke-width=".2" font-size="9.33">2 Dec 08:00</text>
<text transform="translate(964.00,847.20) scale(0.995,1.07)" fill="#000" stroke="#000" stroke-width=".2" font-size="9.33">5 Dec 00:00</text>
<text transform="translate(1028.00,847.20) scale(0.995,1.07)" fill="#000" stroke="#000" stroke-width=".2" font-size="9.33">5 Dec 16:00</text>
<text transform="translate(1092.00,847.20) scale(0.995,1.07)" fill="#000" stroke="#000" stroke-width=".2" font-size="9.33">6 Dec 08:00</text>
<text transform="translate(1156.00,847.20) scale(0.995,1.07)" fill="#000" stroke="#000" stroke-width=".2" font-size="9.33">7 Dec 00:00</text>
<text transform="translate(1220.00,847.20) scale(0.995,1.07)" fill="#000" stroke="#000" stroke-width=".2" font-size="9.33">7 Dec 16:00</text>
<text transform="translate(1284.00,847.20) scale(0.995,1.07)" fill="#000" stroke="#000" stroke-width=".2" font-size="9.33">8 Dec 08:00</text>
<text transform="translate(1348.00,847.20) scale(0.995,1.07)" fill="#000" stroke="#000" stroke-width=".2" font-size="9.33">9 Dec 00:00</text>
<text transform="translate(1412.00,847.20) scale(0.995,1.07)" fill="#000" stroke="#000" stroke-width=".2" font-size="9.33">9 Dec 16:00</text>
<g><rect x="0" y="0" width="1689" height="20" fill="#f0f0f0"/><defs><pattern id="chk" width="2" height="2" patternUnits="userSpaceOnUse"><rect width="2" height="2" fill="#f0f0f0"/><rect x="0" y="0" width="1" height="1" fill="#fff"/><rect x="1" y="1" width="1" height="1" fill="#fff"/></pattern></defs><rect x="2" y="0" width="1" height="18" fill="#a0a0a0" shape-rendering="crispEdges"/><path d="M13.6,.5 H20.2 L23.4,3.6 V12.2 Q23.4,13.3 22.3,13.3 H13.7 Q12.6,13.3 12.6,12.2 V1.5 Q12.6,.5 13.6,.5 Z" fill="#fdfdfd" stroke="#747474" stroke-width="1.1"/><path d="M20.4,.8 V3.6 H23.2" fill="none" stroke="#747474" stroke-width="1"/><rect x="14" y="2.1" width="3" height="1.7" fill="#8a8a8a"/><path d="M14,6.4 H20 M14,8.5 H18.8 M14,10.5 H17" stroke="#808080" stroke-width="1"/><g shape-rendering="crispEdges"><rect x="20" y="6" width="4" height="12" fill="#0b8a14"/><rect x="16" y="10" width="12" height="4" fill="#0b8a14"/><rect x="21" y="7" width="2" height="10" fill="#10e834"/><rect x="17" y="11" width="10" height="2" fill="#10e834"/><rect x="21" y="7" width="1" height="4" fill="#7df592"/><rect x="17" y="11" width="4" height="1" fill="#6df286"/></g><text x="30.4" y="11.2" font-size="12" fill="#000" stroke="#000" stroke-width=".3" font-family="'Liberation Sans', 'Noto Sans CJK SC', sans-serif">新订单</text><defs><linearGradient id="gb" x1="0.2" y1="0" x2="0.7" y2="1"><stop offset="0" stop-color="#fff08a"/><stop offset=".45" stop-color="#edbe1c"/><stop offset="1" stop-color="#d89a08"/></linearGradient><linearGradient id="cl" x1="0" y1="0" x2="0" y2="1"><stop offset="0" stop-color="#ffffff"/><stop offset="1" stop-color="#b8c2d6"/></linearGradient><linearGradient id="bx" x1="0" y1="0" x2="1" y2="0"><stop offset="0" stop-color="#38a8ff"/><stop offset=".3" stop-color="#58b8ff"/><stop offset=".36" stop-color="#0f8cf4"/><stop offset="1" stop-color="#1890f8"/></linearGradient></defs><path d="M87.6,15.9 L94.9,9.6 L94.4,8 L86.6,14.4 Z" fill="#e6d9a4" stroke="#a87410" stroke-width=".7"/><path d="M79.3,9.7 Q82.9,6 84.6,1.5 L94.3,7.9 L86.9,15.2 Z" fill="url(#gb)" stroke="#a86c08" stroke-width="1"/><path d="M80.4,10 L86.8,14.2" stroke="#f4d67a" stroke-width="1.5" fill="none"/><path d="M79.5,10.6 L87.2,15.8" stroke="#a86c08" stroke-width=".9" fill="none"/><path d="M109.3,.4 H119.9 V9.4 H109.3 Z" fill="url(#bx)"/><path d="M109.3,.2 L112,-1 H120 V.4 Z" fill="#7884d2"/><path d="M112.9,1.4 V9" stroke="#d8efff" stroke-width=".9"/><path d="M114.2,5.2 L118.8,4.6" stroke="#e8f6ff" stroke-width="1.2"/><path d="M114,7.4 H119" stroke="#6cc0ff" stroke-width=".8"/><path d="M110.4,15.4 a3.3,3.3 0 0 1 -0.2,-6.2 a3.2,3.2 0 0 1 4.6,-0.4 a3.4,3.4 0 0 1 4.8,0.6 a3.1,3.1 0 0 1 3,3.4 a2.6,2.6 0 0 1 -2,2.6 Z" fill="url(#cl)" stroke="#4a66a6" stroke-width=".95"/><defs><radialGradient id="sg" cx="143" cy="7.9" r="7.8" gradientUnits="userSpaceOnUse"><stop offset=".25" stop-color="#dbe9d4" stop-opacity=".2"/><stop offset="1" stop-color="#5fa85a" stop-opacity=".9"/></radialGradient></defs><path d="M143.3,8 L150.2,4.6 A7.7,7.7 0 0 1 143.4,15.7 Z" fill="url(#sg)"/><circle cx="143" cy="7.9" r="7.3" fill="none" stroke="#98b0e4" stroke-width="1.1" opacity=".8"/><circle cx="143" cy="7.9" r="4.7" fill="none" stroke="#8ca6e0" stroke-width="1.1" opacity=".8"/><path d="M146.4,1.4 A7.3,7.3 0 0 1 143.6,15.2" fill="none" stroke="#5d9c6a" stroke-width="1.2"/><path d="M146,4.3 A4.7,4.7 0 0 1 145.6,11.8" fill="none" stroke="#86b890" stroke-width="1.1"/><circle cx="142.9" cy="7.7" r="2" fill="#2452d0"/><path d="M143.5,8 V15.8" stroke="#22a22a" stroke-width="1.4"/><defs><linearGradient id="yl" x1="0" y1="0" x2="0.3" y2="1"><stop offset="0" stop-color="#fbf0a0"/><stop offset=".6" stop-color="#f6da58"/><stop offset="1" stop-color="#eeb818"/></linearGradient></defs><path d="M162.4,6.2 H177.8 V7.8 L170.6,15.8 L169.4,15.4 L162.4,7.6 Z" fill="url(#yl)" stroke="#cf9c14" stroke-width=".9"/><ellipse cx="170" cy="5" rx="7.8" ry="2.5" fill="#6cb6e4" stroke="#2a86b8" stroke-width=".9"/><path d="M166.4,4.6 Q166.6,-1.6 169.9,-1.6 Q173.2,-1.6 173.6,4.6 Q170,6 166.4,4.6 Z" fill="#78c0ea" stroke="#2a86b8" stroke-width=".8"/><path d="M164.2,5.6 Q170,8.2 175.8,5.6" stroke="#3a92c4" stroke-width=".8" fill="none"/><circle cx="174.6" cy="11.7" r="4.2" fill="#e02408" stroke="#b01a08" stroke-width=".7"/><rect x="173.2" y="10.2" width="2.9" height="2.9" fill="#fff"/><text x="183.4" y="11.2" font-size="12" fill="#000" stroke="#000" stroke-width=".3" font-family="'Liberation Sans', 'Noto Sans CJK SC', sans-serif">自动交易</text><rect x="238" y="0" width="1" height="20" fill="#a0a0a0" shape-rendering="crispEdges"/><rect x="239" y="0" width="1" height="20" fill="#fff"/><rect x="242" y="0" width="3" height="1" fill="#a8a8a8" shape-rendering="crispEdges"/><rect x="242" y="2" width="3" height="1" fill="#a8a8a8" shape-rendering="crispEdges"/><rect x="242" y="4" width="3" height="1" fill="#a8a8a8" shape-rendering="crispEdges"/><rect x="242" y="6" width="3" height="1" fill="#a8a8a8" shape-rendering="crispEdges"/><rect x="242" y="8" width="3" height="1" fill="#a8a8a8" shape-rendering="crispEdges"/><rect x="242" y="10" width="3" height="1" fill="#a8a8a8" shape-rendering="crispEdges"/><rect x="242" y="12" width="3" height="1" fill="#a8a8a8" shape-rendering="crispEdges"/><rect x="242" y="14" width="3" height="1" fill="#a8a8a8" shape-rendering="crispEdges"/><rect x="242" y="16" width="3" height="1" fill="#a8a8a8" shape-rendering="crispEdges"/><g fill="#555555" shape-rendering="crispEdges"><rect x="256" y="2" width="1" height="14"/><rect x="255" y="3" width="3" height="1"/><rect x="254" y="13" width="14" height="1"/><rect x="266" y="12" width="1" height="3"/></g><path d="M262.5,3.6 V11.6 M262.5,4.2 H265 M260.2,10.6 H262.5" stroke="#1f9a2f" stroke-width="1.4" fill="none"/><rect x="276" y="0" width="1" height="18" fill="#a0a0a0" shape-rendering="crispEdges"/><rect x="277" y="0" width="24" height="18" fill="url(#chk)" shape-rendering="crispEdges"/><rect x="301" y="0" width="1" height="19" fill="#fff" shape-rendering="crispEdges"/><rect x="276" y="18" width="25" height="1" fill="#fff" shape-rendering="crispEdges"/><g fill="#555555" shape-rendering="crispEdges"><rect x="284" y="2" width="1" height="14"/><rect x="283" y="3" width="3" height="1"/><rect x="282" y="13" width="14" height="1"/><rect x="294" y="12" width="1" height="3"/></g><g shape-rendering="crispEdges"><rect x="290" y="0" width="1" height="12" fill="#0a8a14"/><rect x="288" y="2" width="5" height="8" fill="#0a8a14"/><rect x="289" y="3" width="3" height="6" fill="#3ee65a"/><rect x="289" y="3" width="2" height="3" fill="#86f79a"/></g><g fill="#555555" shape-rendering="crispEdges"><rect x="312" y="2" width="1" height="14"/><rect x="311" y="3" width="3" height="1"/><rect x="310" y="13" width="14" height="1"/><rect x="322" y="12" width="1" height="3"/></g><path d="M311,10.6 Q314,8 316,5.6 Q317.4,4.4 319,5.8 Q321,8 322.8,9.2" stroke="#3a9a44" stroke-width="1.2" fill="none"/><rect x="333" y="0" width="1" height="18" fill="#a0a0a0" shape-rendering="crispEdges"/><line x1="351.70000000000005" y1="9.4" x2="357.3" y2="14.9" stroke="#a67c10" stroke-width="3.3"/><line x1="351.70000000000005" y1="9.4" x2="356.90000000000003" y2="14.5" stroke="#f2d648" stroke-width="1.9"/><circle cx="348.1" cy="5.8" r="5.3" fill="#e2f3fb" stroke="#2f78c6" stroke-width="1.25"/><path d="M344.70000000000005,3.4 A4.2,4.2 0 0 1 351.5,3.4" stroke="#ffffff" stroke-width="1" fill="none" opacity=".8"/><path d="M345.1,5.9 H351.1 M348.1,2.9 V8.9" stroke="#3d83b4" stroke-width="1.7" fill="none"/><line x1="379.8" y1="9.4" x2="385.4" y2="14.9" stroke="#a67c10" stroke-width="3.3"/><line x1="379.8" y1="9.4" x2="385.0" y2="14.5" stroke="#f2d648" stroke-width="1.9"/><circle cx="376.2" cy="5.8" r="5.3" fill="#e2f3fb" stroke="#2f78c6" stroke-width="1.25"/><path d="M372.8,3.4 A4.2,4.2 0 0 1 379.59999999999997,3.4" stroke="#ffffff" stroke-width="1" fill="none" opacity=".8"/><path d="M373.2,5.9 H379.2" stroke="#3d83b4" stroke-width="1.7" fill="none"/><defs><linearGradient id="tg" x1="0" y1="0" x2="1" y2="1"><stop offset="0" stop-color="#58b428"/><stop offset="1" stop-color="#1c7c04"/></linearGradient><linearGradient id="tb" x1="0" y1="0" x2="1" y2="1"><stop offset="0" stop-color="#3c70ea"/><stop offset="1" stop-color="#0c2cae"/></linearGradient></defs><rect x="398" y="0" width="7.9" height="7.8" rx=".8" fill="url(#tg)"/><rect x="399.2" y="1.2" width="1" height="1" fill="#e8f0ff"/><path d="M399.2,3.4 H404.8 V6.9 H403.8 V6.1 H400.2 V6.9 H399.2 Z" fill="#fdfeff"/><rect x="400.2" y="4.3" width="3.6" height=".9" fill="#9ad48a"/><rect x="406.1" y="0" width="7.9" height="7.8" rx=".8" fill="url(#tb)"/><rect x="407.3" y="1.2" width="1" height="1" fill="#e8f0ff"/><path d="M407.3,3.4 H412.90000000000003 V6.9 H411.90000000000003 V6.1 H408.3 V6.9 H407.3 Z" fill="#fdfeff"/><rect x="408.3" y="4.3" width="3.6" height=".9" fill="#9ab0f0"/><rect x="398" y="8.1" width="7.9" height="7.8" rx=".8" fill="url(#tb)"/><rect x="399.2" y="9.299999999999999" width="1" height="1" fill="#e8f0ff"/><path d="M399.2,11.5 H404.8 V15.0 H403.8 V14.2 H400.2 V15.0 H399.2 Z" fill="#fdfeff"/><rect x="400.2" y="12.399999999999999" width="3.6" height=".9" fill="#9ab0f0"/><rect x="406.1" y="8.1" width="7.9" height="7.8" rx=".8" fill="url(#tg)"/><rect x="407.3" y="9.299999999999999" width="1" height="1" fill="#e8f0ff"/><path d="M407.3,11.5 H412.90000000000003 V15.0 H411.90000000000003 V14.2 H408.3 V15.0 H407.3 Z" fill="#fdfeff"/><rect x="408.3" y="12.399999999999999" width="3.6" height=".9" fill="#9ad48a"/><rect x="423" y="0" width="1" height="18" fill="#a0a0a0" shape-rendering="crispEdges"/><rect x="428" y="0" width="1" height="18" fill="#a0a0a0" shape-rendering="crispEdges"/><rect x="429" y="0" width="24" height="18" fill="url(#chk)" shape-rendering="crispEdges"/><rect x="453" y="0" width="1" height="19" fill="#fff" shape-rendering="crispEdges"/><rect x="428" y="18" width="25" height="1" fill="#fff" shape-rendering="crispEdges"/><g fill="#555555" shape-rendering="crispEdges"><rect x="436" y="2" width="1" height="14"/><rect x="435" y="3" width="3" height="1"/><rect x="434" y="13" width="14" height="1"/><rect x="446" y="12" width="1" height="3"/></g><polygon points="441.4,4.4 441.4,10.6 445.4,7.5" fill="#5fd86a" stroke="#1f9a2f" stroke-width="1"/><rect x="456" y="0" width="1" height="18" fill="#a0a0a0" shape-rendering="crispEdges"/><rect x="457" y="0" width="24" height="18" fill="url(#chk)" shape-rendering="crispEdges"/><rect x="481" y="0" width="1" height="19" fill="#fff" shape-rendering="crispEdges"/><rect x="456" y="18" width="25" height="1" fill="#fff" shape-rendering="crispEdges"/><g fill="#555555" shape-rendering="crispEdges"><rect x="464" y="2" width="1" height="14"/><rect x="463" y="3" width="3" height="1"/><rect x="462" y="13" width="14" height="1"/><rect x="474" y="12" width="1" height="3"/></g><path d="M470.6,2 V11.6" stroke="#1f6fb0" stroke-width="1.3"/><path d="M476,7.4 H472" stroke="#d04010" stroke-width="1.1"/><polygon points="471.6,7.4 474.4,5.4 474.4,9.4" fill="#d04010"/><rect x="485" y="0" width="1" height="18" fill="#a0a0a0" shape-rendering="crispEdges"/><path d="M496.6,.5 H503.2 L506.4,3.6 V12.2 Q506.4,13.3 505.3,13.3 H496.7 Q495.6,13.3 495.6,12.2 V1.5 Q495.6,.5 496.6,.5 Z" fill="#fdfdfd" stroke="#747474" stroke-width="1.1"/><path d="M503.4,.8 V3.6 H506.2" fill="none" stroke="#747474" stroke-width="1"/><path d="M499.6,2.6 Q498,2.8 498.2,5 Q498.3,6.4 497.4,6.6 Q498.3,6.9 498.2,8.6 Q498.1,10.2 499.4,10.4 M498.4,5.6 H500.4" stroke="#4a4a3a" stroke-width=".9" fill="none"/><g shape-rendering="crispEdges"><rect x="503" y="6" width="4" height="12" fill="#0b8a14"/><rect x="499" y="10" width="12" height="4" fill="#0b8a14"/><rect x="504" y="7" width="2" height="10" fill="#10e834"/><rect x="500" y="11" width="10" height="2" fill="#10e834"/><rect x="504" y="7" width="1" height="4" fill="#7df592"/><rect x="500" y="11" width="4" height="1" fill="#6df286"/></g><g fill="#000" shape-rendering="crispEdges"><rect x="517" y="7" width="5" height="1"/><rect x="518" y="8" width="3" height="1"/><rect x="519" y="9" width="1" height="1"/></g><defs><linearGradient id="ck" x1="0" y1="0" x2="0" y2="1"><stop offset="0" stop-color="#3c8cea"/><stop offset=".55" stop-color="#1a5cc8"/><stop offset="1" stop-color="#0a3c9c"/></linearGradient></defs><circle cx="541.1" cy="7.5" r="6.9" fill="#eef3f8" stroke="url(#ck)" stroke-width="2.1"/><circle cx="541.1" cy="7.5" r="4.9" fill="none" stroke="#8c9cb0" stroke-width=".9" stroke-dasharray=".7 1.87"/><path d="M540.3,4.2 L541.3,7.8 L543.9,7.8" stroke="#20242c" stroke-width="1.2" fill="none"/><path d="M540.2,10.6 H542" stroke="#5aa0f0" stroke-width=".8"/><g fill="#000" shape-rendering="crispEdges"><rect x="556" y="7" width="5" height="1"/><rect x="557" y="8" width="3" height="1"/><rect x="558" y="9" width="1" height="1"/></g><defs><linearGradient id="tp" x1="0" y1="0" x2="1" y2="0"><stop offset="0" stop-color="#8cb8ec"/><stop offset="1" stop-color="#2a62c2"/></linearGradient></defs><rect x="572.5" y="1.5" width="15.2" height="13.2" fill="#fbfdff" stroke="#2f66c2" stroke-width="1"/><rect x="573" y="2" width="14.2" height="1.8" fill="url(#tp)"/><path d="M573,8.6 H587.4" stroke="#3a70c8" stroke-width=".9"/><path d="M574.6,7 H576.2 L577.6,6 H579.4 L580.4,5.2 H581.8 L582.8,6 H584.4 L585.6,5 H586.4" stroke="#a32408" stroke-width="1.1" fill="none"/><path d="M575,12.6 H576.8 L578.4,11.8 L580,12.6 L582.6,10.4 L584,11 L585.8,12.8" stroke="#14862a" stroke-width="1.1" fill="none"/><g fill="#000" shape-rendering="crispEdges"><rect x="595" y="7" width="5" height="1"/><rect x="596" y="8" width="3" height="1"/><rect x="597" y="9" width="1" height="1"/></g><rect x="606" y="0" width="1" height="20" fill="#a0a0a0" shape-rendering="crispEdges"/><rect x="607" y="0" width="1" height="20" fill="#fff"/><rect x="610" y="0" width="3" height="1" fill="#a8a8a8" shape-rendering="crispEdges"/><rect x="610" y="2" width="3" height="1" fill="#a8a8a8" shape-rendering="crispEdges"/><rect x="610" y="4" width="3" height="1" fill="#a8a8a8" shape-rendering="crispEdges"/><rect x="610" y="6" width="3" height="1" fill="#a8a8a8" shape-rendering="crispEdges"/><rect x="610" y="8" width="3" height="1" fill="#a8a8a8" shape-rendering="crispEdges"/><rect x="610" y="10" width="3" height="1" fill="#a8a8a8" shape-rendering="crispEdges"/><rect x="610" y="12" width="3" height="1" fill="#a8a8a8" shape-rendering="crispEdges"/><rect x="610" y="14" width="3" height="1" fill="#a8a8a8" shape-rendering="crispEdges"/><rect x="610" y="16" width="3" height="1" fill="#a8a8a8" shape-rendering="crispEdges"/><rect x="616" y="0" width="1" height="18" fill="#a0a0a0" shape-rendering="crispEdges"/><rect x="617" y="0" width="24" height="18" fill="url(#chk)" shape-rendering="crispEdges"/><rect x="641" y="0" width="1" height="19" fill="#fff" shape-rendering="crispEdges"/><rect x="616" y="18" width="25" height="1" fill="#fff" shape-rendering="crispEdges"/><path d="M624,1 L624,12.2 L626.7,9.8 L629,15 L631,14.1 L628.8,9 L632.4,9 Z" fill="#444"/><path d="M656.4,1 V7 M656.4,9.6 V15.8 M649,8.3 H655 M657.8,8.3 H664" stroke="#505050" stroke-width="1"/><rect x="656" y="8" width=".8" height=".8" fill="#505050"/><rect x="673" y="0" width="1" height="18" fill="#a0a0a0" shape-rendering="crispEdges"/><path d="M690.6,2 V15" stroke="#565656" stroke-width="1.1"/><path d="M712.6,8.3 H725.2" stroke="#565656" stroke-width="1.1"/><path d="M741,15 L753,3" stroke="#565656" stroke-width="1.1"/><path d="M766.6,9.7 L774.8,2.2 M771.8,15 L781.2,6.2" stroke="#7a7a7a" stroke-width=".9" fill="none"/><path d="M769.2,14.6 L769.7,7.8 L772.2,11.2 L772.8,6 L775.4,9.6 L775.6,4.2 L778.4,7.4 L778.8,-.5" stroke="#3e3e3e" stroke-width="1.35" fill="none" stroke-linejoin="miter"/><g fill="#3c3c3c"><rect x="778" y="12" width="1.3" height="5"/><rect x="778" y="12" width="4" height="1"/><rect x="778" y="14" width="3.6" height="1"/><rect x="778" y="16" width="4" height="1"/></g><rect x="796" y="1" width="1" height="1" fill="#505050" shape-rendering="crispEdges"/><rect x="798" y="1" width="1" height="1" fill="#505050" shape-rendering="crispEdges"/><rect x="800" y="1" width="1" height="1" fill="#505050" shape-rendering="crispEdges"/><rect x="802" y="1" width="1" height="1" fill="#505050" shape-rendering="crispEdges"/><rect x="804" y="1" width="1" height="1" fill="#505050" shape-rendering="crispEdges"/><rect x="806" y="1" width="1" height="1" fill="#505050" shape-rendering="crispEdges"/><rect x="808" y="1" width="1" height="1" fill="#505050" shape-rendering="crispEdges"/><rect x="796" y="4" width="1" height="1" fill="#505050" shape-rendering="crispEdges"/><rect x="798" y="4" width="1" height="1" fill="#505050" shape-rendering="crispEdges"/><rect x="800" y="4" width="1" height="1" fill="#505050" shape-rendering="crispEdges"/><rect x="802" y="4" width="1" height="1" fill="#505050" shape-rendering="crispEdges"/><rect x="804" y="4" width="1" height="1" fill="#505050" shape-rendering="crispEdges"/><rect x="806" y="4" width="1" height="1" fill="#505050" shape-rendering="crispEdges"/><rect x="808" y="4" width="1" height="1" fill="#505050" shape-rendering="crispEdges"/><rect x="796" y="8" width="1" height="1" fill="#505050" shape-rendering="crispEdges"/><rect x="798" y="8" width="1" height="1" fill="#505050" shape-rendering="crispEdges"/><rect x="800" y="8" width="1" height="1" fill="#505050" shape-rendering="crispEdges"/><rect x="802" y="8" width="1" height="1" fill="#505050" shape-rendering="crispEdges"/><rect x="804" y="8" width="1" height="1" fill="#505050" shape-rendering="crispEdges"/><rect x="806" y="8" width="1" height="1" fill="#505050" shape-rendering="crispEdges"/><rect x="808" y="8" width="1" height="1" fill="#505050" shape-rendering="crispEdges"/><rect x="796" y="12" width="1" height="1" fill="#505050" shape-rendering="crispEdges"/><rect x="798" y="12" width="1" height="1" fill="#505050" shape-rendering="crispEdges"/><rect x="800" y="12" width="1" height="1" fill="#505050" shape-rendering="crispEdges"/><rect x="802" y="12" width="1" height="1" fill="#505050" shape-rendering="crispEdges"/><rect x="804" y="12" width="1" height="1" fill="#505050" shape-rendering="crispEdges"/><g fill="#3c3c3c"><rect x="806" y="12" width="1.3" height="5"/><rect x="806" y="12" width="4" height="1"/><rect x="806" y="14" width="3.4" height="1"/></g><path d="M827.5,12.9 L830.7,4.3 L833.9,12.9 M828.7,10 H832.7" stroke="#555" stroke-width="1.4" fill="none" stroke-linejoin="miter"/><g fill="#555" shape-rendering="crispEdges"><rect x="853" y="2" width="1" height="1"/><rect x="855" y="2" width="1" height="1"/><rect x="857" y="2" width="1" height="1"/><rect x="859" y="2" width="1" height="1"/><rect x="861" y="2" width="1" height="1"/><rect x="863" y="2" width="1" height="1"/><rect x="865" y="2" width="1" height="1"/><rect x="853" y="14" width="1" height="1"/><rect x="855" y="14" width="1" height="1"/><rect x="857" y="14" width="1" height="1"/><rect x="859" y="14" width="1" height="1"/><rect x="861" y="14" width="1" height="1"/><rect x="863" y="14" width="1" height="1"/><rect x="865" y="14" width="1" height="1"/><rect x="853" y="4" width="1" height="1"/><rect x="853" y="6" width="1" height="1"/><rect x="853" y="8" width="1" height="1"/><rect x="853" y="10" width="1" height="1"/><rect x="853" y="12" width="1" height="1"/><rect x="865" y="4" width="1" height="1"/><rect x="865" y="6" width="1" height="1"/><rect x="865" y="8" width="1" height="1"/><rect x="865" y="10" width="1" height="1"/><rect x="865" y="12" width="1" height="1"/><rect x="852" y="1" width="1" height="1"/><rect x="853" y="1" width="1" height="1"/></g><path d="M855.2,5.5 H863 M859.2,5.5 V12.8" stroke="#505050" stroke-width="1.5" fill="none"/><path d="M883.5,2 L887,5.4 H885 V6.4 H882 V5.4 H880 Z M890.6,15 L887,11.5 H889 V10.5 H892.2 V11.5 H894.2 Z" fill="#4c4c4c"/><path d="M882,9.4 L884.5,11.6 L888.8,6.4" stroke="#4c4c4c" stroke-width="1.3" fill="none"/><g fill="#000" shape-rendering="crispEdges"><rect x="901" y="7" width="5" height="1"/><rect x="902" y="8" width="3" height="1"/><rect x="903" y="9" width="1" height="1"/></g><rect x="912" y="0" width="1" height="20" fill="#a0a0a0" shape-rendering="crispEdges"/><rect x="913" y="0" width="1" height="20" fill="#fff"/><rect x="916" y="0" width="3" height="1" fill="#a8a8a8" shape-rendering="crispEdges"/><rect x="916" y="2" width="3" height="1" fill="#a8a8a8" shape-rendering="crispEdges"/><rect x="916" y="4" width="3" height="1" fill="#a8a8a8" shape-rendering="crispEdges"/><rect x="916" y="6" width="3" height="1" fill="#a8a8a8" shape-rendering="crispEdges"/><rect x="916" y="8" width="3" height="1" fill="#a8a8a8" shape-rendering="crispEdges"/><rect x="916" y="10" width="3" height="1" fill="#a8a8a8" shape-rendering="crispEdges"/><rect x="916" y="12" width="3" height="1" fill="#a8a8a8" shape-rendering="crispEdges"/><rect x="916" y="14" width="3" height="1" fill="#a8a8a8" shape-rendering="crispEdges"/><rect x="916" y="16" width="3" height="1" fill="#a8a8a8" shape-rendering="crispEdges"/><text transform="translate(927.0,12) scale(1,1.07)" font-size="9.33" fill="#3c3c3c" stroke="#3c3c3c" stroke-width=".12">M1</text><text transform="translate(955.2,12) scale(1,1.07)" font-size="9.33" fill="#3c3c3c" stroke="#3c3c3c" stroke-width=".12">M5</text><text transform="translate(981.4,12) scale(1,1.07)" font-size="9.33" fill="#3c3c3c" stroke="#3c3c3c" stroke-width=".12">M15</text><text transform="translate(1009.0,12) scale(1,1.07)" font-size="9.33" fill="#3c3c3c" stroke="#3c3c3c" stroke-width=".12">M30</text><text transform="translate(1040.2,12) scale(1,1.07)" font-size="9.33" fill="#3c3c3c" stroke="#3c3c3c" stroke-width=".12">H1</text><rect x="1062" y="0" width="1" height="18" fill="#a0a0a0" shape-rendering="crispEdges"/><rect x="1063" y="0" width="24" height="18" fill="url(#chk)" shape-rendering="crispEdges"/><rect x="1087" y="0" width="1" height="19" fill="#fff" shape-rendering="crispEdges"/><rect x="1062" y="18" width="25" height="1" fill="#fff" shape-rendering="crispEdges"/><text transform="translate(1067.4,12) scale(1,1.07)" font-size="9.33" fill="#303030" stroke="#303030" stroke-width=".12">H4</text><text transform="translate(1096.2,12) scale(1,1.07)" font-size="9.33" fill="#3c3c3c" stroke="#3c3c3c" stroke-width=".12">D1</text><text transform="translate(1123.6,12) scale(1,1.07)" font-size="9.33" fill="#3c3c3c" stroke="#3c3c3c" stroke-width=".12">W1</text><text transform="translate(1150.2,12) scale(1,1.07)" font-size="9.33" fill="#3c3c3c" stroke="#3c3c3c" stroke-width=".12">MN</text><rect x="1173" y="0" width="1" height="18" fill="#a0a0a0" shape-rendering="crispEdges"/><line x1="1640.6" y1="8.6" x2="1636.2" y2="12.8" stroke="#2a5fd0" stroke-width="2.4" stroke-linecap="round"/><circle cx="1643.7" cy="5.4" r="3.7" fill="#f6f8ff" stroke="#2a5fd0" stroke-width="1.1"/><path d="M1661,9.6 a5.4,4.6 0 0 1 10.8,0 a5.4,4.6 0 0 1 -6.4,4.4 l-2.6,2.6 l0.2,-3.4 a5,4.4 0 0 1 -2,-3.6 Z" fill="#e4e4ec" stroke="#a4a4a8" stroke-width="1"/><defs><linearGradient id="rb" x1="0" y1="0" x2="0" y2="1"><stop offset="0" stop-color="#e8603c"/><stop offset=".45" stop-color="#e03a1e"/><stop offset="1" stop-color="#dc2000"/></linearGradient></defs><circle cx="1674.6" cy="5.4" r="8.2" fill="url(#rb)"/><text x="1670.2" y="9.9" font-size="12" font-weight="bold" fill="#fff">1</text></g>
</svg>
</body></html>
